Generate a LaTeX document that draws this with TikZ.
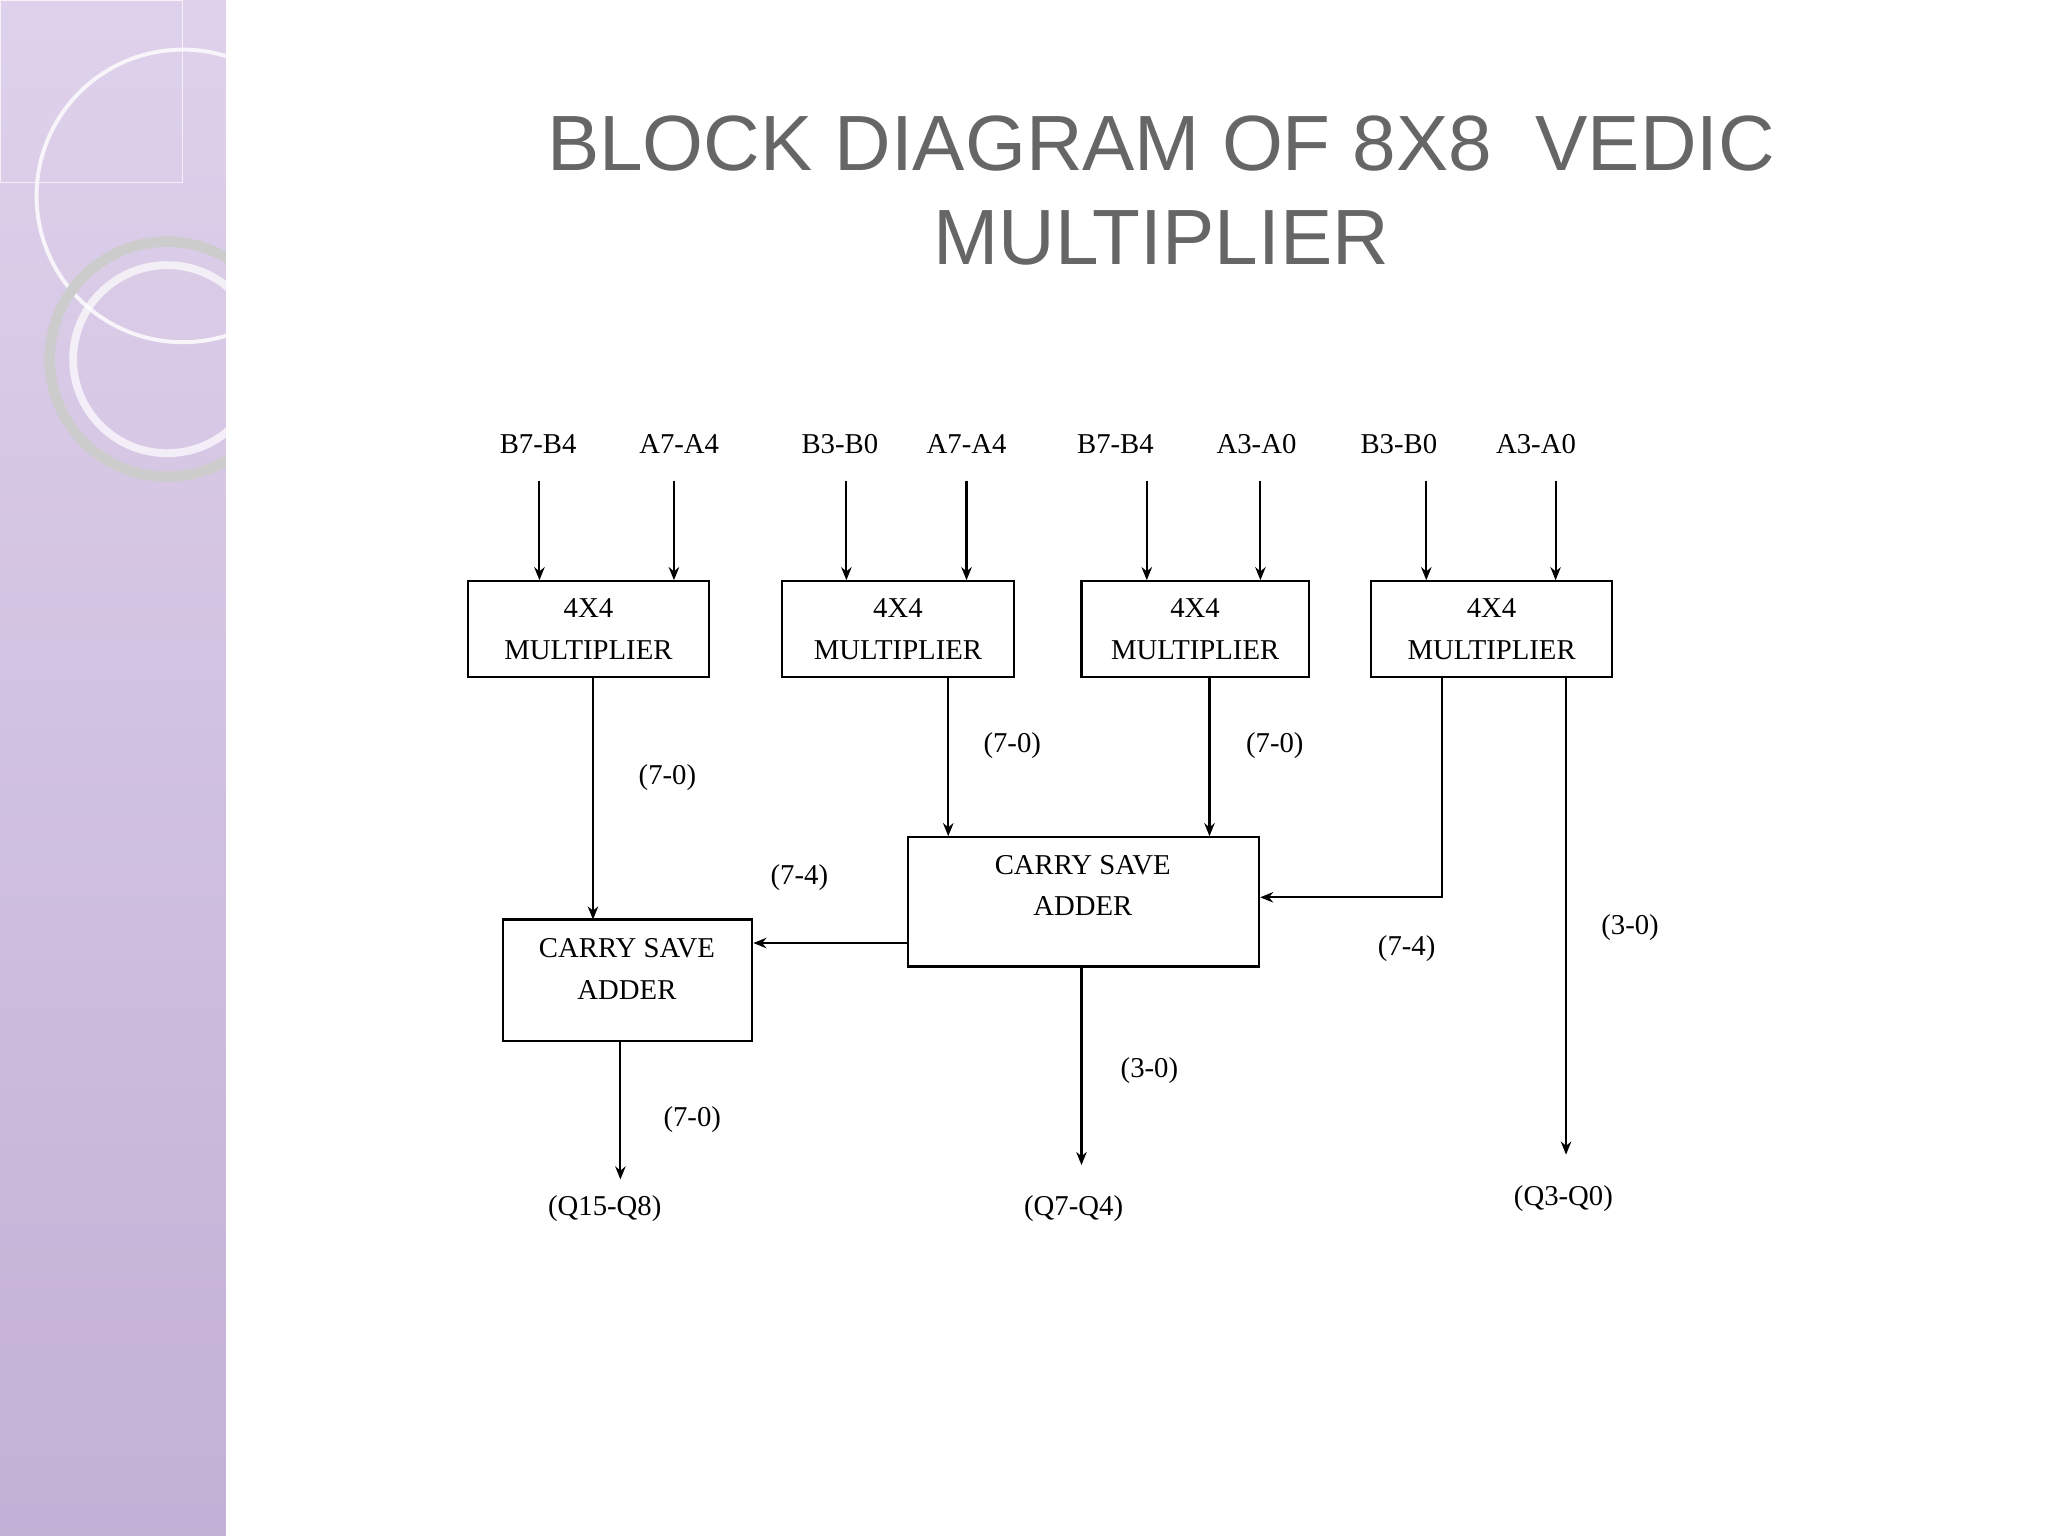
\documentclass[tikz,border=0pt]{standalone}
\usepackage{fontspec}
\setmainfont{Liberation Serif}
\newfontfamily\titlefont{Liberation Sans}
\usetikzlibrary{arrows.meta}
\definecolor{lav}{HTML}{C9B3DE}
\definecolor{lavd}{HTML}{B49CCB}
\begin{document}
\begin{tikzpicture}[x=0.5pt,y=-0.5pt,
  box/.style={draw,thick,inner sep=0pt,align=center,font=\fontsize{11}{16}\selectfont},
  btxt/.style={inner sep=0pt,align=center,font=\fontsize{11}{16}\selectfont},
  lbl/.style={font=\fontsize{11}{13}\selectfont},
  ttl/.style={text=gray!80!black,font=\titlefont\fontsize{30}{36}\selectfont},
  arr/.style={thick,-{Stealth[length=5pt,width=4pt]}}]
\useasboundingbox (0,0) rectangle (1568,1176);
\fill[white] (0,0) rectangle (1568,1176);
\shade[top color=lav!60,bottom color=lavd!80] (0,0) rectangle (173,1176);
\begin{scope}
\clip (0,0) rectangle (173,1176);
\draw[white,line width=1.5pt,opacity=0.8] (140,150) circle (112);
\draw[gray!40,line width=4pt] (128,275) circle (90);
\draw[white,line width=3pt,opacity=0.7] (128,275) circle (72);
\draw[white,opacity=0.7] (0,0) rectangle (140,140);
\end{scope}
\node[ttl] (t1) at (889,110) {BLOCK DIAGRAM OF 8X8\ \ VEDIC};
\node[ttl] (t2) at (889,182) {MULTIPLIER};
% inputs
\foreach \n/\x/\ax/\t in {i1/412/413/B7-B4,i2/520/516/A7-A4,i3/643/648/B3-B0,i4/740/740/A7-A4,i5/854/878/B7-B4,i6/962/965/A3-A0,i7/1071/1092/B3-B0,i8/1176/1191/A3-A0}{
  \node[lbl] (\n) at (\x,340) {\t};
  \coordinate (\n s) at (\ax,368);
}
\node[box,minimum width=92.5pt,minimum height=36.5pt] (m1) at (450.5,481.5) {4X4\\MULTIPLIER};
\node[box,minimum width=88.5pt,minimum height=36.5pt] (m2) at (687.5,481.5) {4X4\\MULTIPLIER};
\node[box,minimum width=87pt,minimum height=36.5pt] (m3) at (915,481.5) {4X4\\MULTIPLIER};
\node[box,minimum width=92pt,minimum height=36.5pt] (m4) at (1142,481.5) {4X4\\MULTIPLIER};
\node[box,minimum width=134.5pt,minimum height=49.5pt] (c2) at (829.5,690.5) {};
\node[btxt] (c2t) at (829,678) {CARRY SAVE\\ADDER};
\node[box,minimum width=95.5pt,minimum height=46.5pt] (c1) at (480.5,750.5) {};
\node[btxt] (c1t) at (480,742) {CARRY SAVE\\ADDER};
\foreach \a/\b in {i1s/m1,i2s/m1,i3s/m2,i4s/m2,i5s/m3,i6s/m3,i7s/m4,i8s/m4}
  \draw[arr] (\a) -- (\a |- \b.north);
\draw[arr] (m1.south -| 454,0) -- (454,704);
\draw[arr] (m2.south -| 726,0) -- (c2.north -| 726,0);
\draw[arr] (m3.south -| 926,0) -- (c2.north -| 926,0);
\draw[arr] (m4.south -| 1104,0) -- (1104,687) -- (c2.east |- 0,687);
\coordinate (o3) at (1199,884);
\draw[arr] (m4.south -| 1199,0) -- (o3);
\draw[arr] (c2.west |- 0,722) -- (c1.east |- 0,722);
\coordinate (o2) at (828,892);
\draw[arr] (c2.south -| 828,0) -- (o2);
\coordinate (o1) at (475,903);
\draw[arr] (c1.south -| 475,0) -- (o1);
\node[lbl] (l1) at (511,595) {(7-0)};
\node[lbl] (l2) at (775,571) {(7-0)};
\node[lbl] (l3) at (976,571) {(7-0)};
\node[lbl] (l4) at (1077,726) {(7-4)};
\node[lbl] (l5) at (1248,710) {(3-0)};
\node[lbl] (l6) at (612,672) {(7-4)};
\node[lbl] (l7) at (880,820) {(3-0)};
\node[lbl] (l8) at (530,857) {(7-0)};
\node[lbl] (q1) at (463,925) {(Q15-Q8)};
\node[lbl] (q2) at (822,925) {(Q7-Q4)};
\node[lbl] (q3) at (1197,918) {(Q3-Q0)};
\end{tikzpicture}
\end{document}
